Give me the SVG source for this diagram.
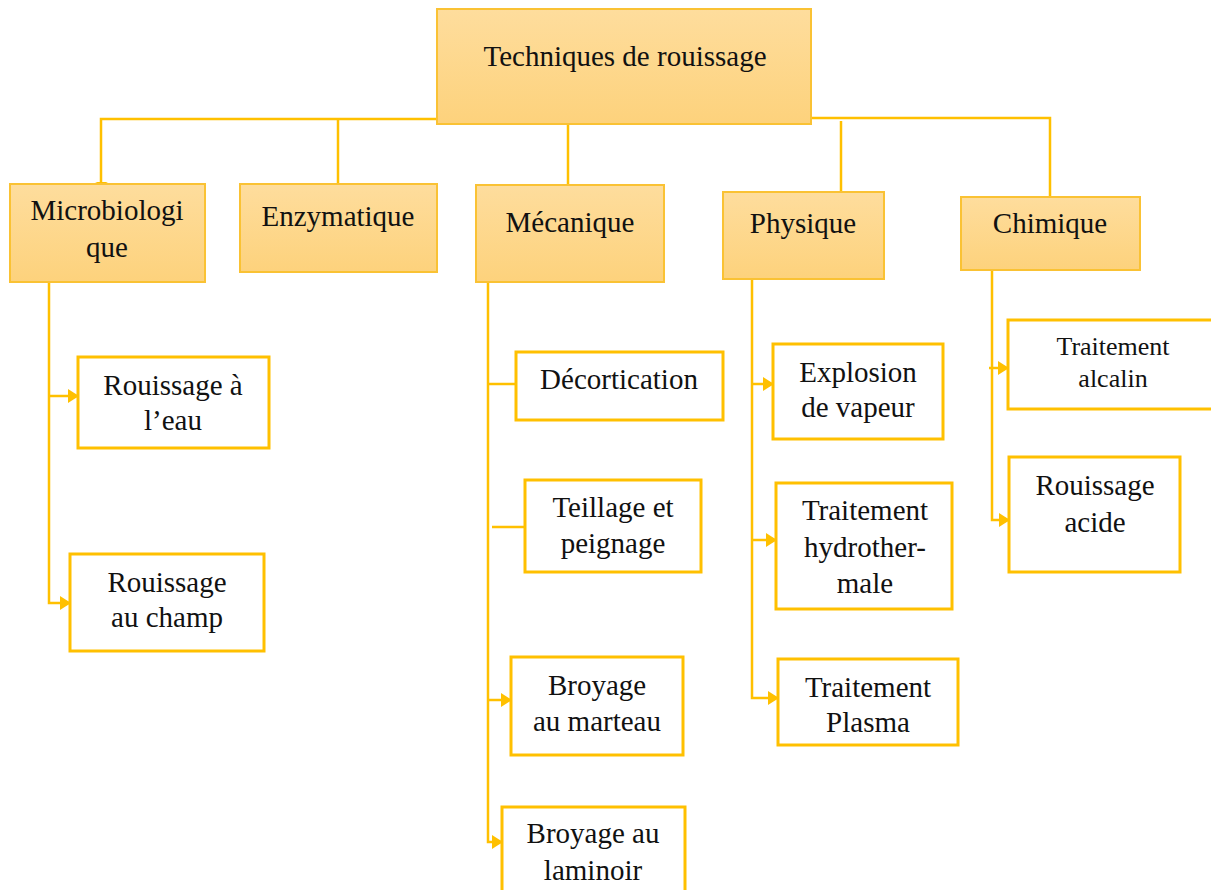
<svg xmlns="http://www.w3.org/2000/svg" width="1211" height="890" viewBox="0 0 1211 890">
  <defs>
    <linearGradient id="catFill" x1="0" y1="0" x2="0" y2="1">
      <stop offset="0" stop-color="#FEDD9D"/>
      <stop offset="1" stop-color="#FDD27C"/>
    </linearGradient>
    <marker id="arrow" viewBox="0 0 11 14" refX="10" refY="7" markerWidth="11" markerHeight="14" markerUnits="userSpaceOnUse" orient="auto">
      <path d="M0,0 L11,7 L0,14 z" fill="#FFC000"/>
    </marker>
  </defs>
  <style>
    .cat { fill: url(#catFill); stroke: #FAC234; stroke-width: 2; }
    .leaf { fill: #FFFFFF; stroke: #FFC000; stroke-width: 3; }
    .lbl { font-size: 29px; fill: #111111; text-anchor: middle; }
    .sm { font-size: 26px; }
    .link { fill: none; stroke: #FFC000; stroke-width: 2.5; }
  </style>
  <rect width="1211" height="890" fill="#FFFFFF"/>

  <!-- connectors -->
  <g id="connectors" class="link">
    <path d="M437,119 H101 V184"/>
    <path d="M95,182 L108,182 L102,185 z" fill="#FFC000" stroke="none"/>
    <path d="M811,118 H1050 V197"/>
    <path d="M338,119 V183"/>
    <path d="M568,124 V185"/>
    <path d="M841,121 V192"/>

    <path d="M49,283 V603 H70" marker-end="url(#arrow)"/>
    <path d="M49,396 H78" marker-end="url(#arrow)"/>

    <path d="M488,282 V842 H502" marker-end="url(#arrow)"/>
    <path d="M488,384 H516"/>
    <path d="M492,527 H525"/>
    <path d="M488,700 H511" marker-end="url(#arrow)"/>

    <path d="M752,279 V698 H778" marker-end="url(#arrow)"/>
    <path d="M752,384 H773" marker-end="url(#arrow)"/>
    <path d="M752,540 H776" marker-end="url(#arrow)"/>

    <path d="M992,270 V520 H1009" marker-end="url(#arrow)"/>
    <path d="M989,368 H1008" marker-end="url(#arrow)"/>
  </g>

  <g font-family="'Liberation Serif', 'Times New Roman', Times, serif">
  <!-- root -->
  <g id="root">
    <rect class="cat" x="437" y="9" width="374" height="115"/>
    <text class="lbl" x="625" y="66">Techniques de rouissage</text>
  </g>

  <!-- categories -->
  <g id="microbiologique">
    <rect class="cat" x="10" y="184" width="195" height="98"/>
    <text class="lbl" x="107" y="220">Microbiologi</text>
    <text class="lbl" x="107" y="257">que</text>
  </g>
  <g id="enzymatique">
    <rect class="cat" x="240" y="184" width="197" height="88"/>
    <text class="lbl" x="338" y="226">Enzymatique</text>
  </g>
  <g id="mecanique">
    <rect class="cat" x="476" y="185" width="188" height="97"/>
    <text class="lbl" x="570" y="232">Mécanique</text>
  </g>
  <g id="physique">
    <rect class="cat" x="723" y="192" width="161" height="87"/>
    <text class="lbl" x="803" y="233">Physique</text>
  </g>
  <g id="chimique">
    <rect class="cat" x="961" y="197" width="179" height="73"/>
    <text class="lbl" x="1050" y="233">Chimique</text>
  </g>

  <!-- microbiological -->
  <g id="rouissage-eau">
    <rect class="leaf" x="78" y="357" width="191" height="91"/>
    <text class="lbl" x="173" y="395">Rouissage à</text>
    <text class="lbl" x="173" y="430">l’eau</text>
  </g>
  <g id="rouissage-champ">
    <rect class="leaf" x="70" y="554" width="194" height="97"/>
    <text class="lbl" x="167" y="592">Rouissage</text>
    <text class="lbl" x="167" y="627">au champ</text>
  </g>

  <!-- mechanical -->
  <g id="decortication">
    <rect class="leaf" x="516" y="352" width="207" height="68"/>
    <text class="lbl" x="619" y="389">Décortication</text>
  </g>
  <g id="teillage">
    <rect class="leaf" x="525" y="480" width="176" height="92"/>
    <text class="lbl" x="613" y="517">Teillage et</text>
    <text class="lbl" x="613" y="553">peignage</text>
  </g>
  <g id="broyage-marteau">
    <rect class="leaf" x="511" y="657" width="172" height="98"/>
    <text class="lbl" x="597" y="695">Broyage</text>
    <text class="lbl" x="597" y="731">au marteau</text>
  </g>
  <g id="broyage-laminoir">
    <rect class="leaf" x="502" y="807" width="183" height="100"/>
    <text class="lbl" x="593" y="843">Broyage au</text>
    <text class="lbl" x="593" y="880">laminoir</text>
  </g>

  <!-- physical -->
  <g id="explosion-vapeur">
    <rect class="leaf" x="773" y="344" width="170" height="95"/>
    <text class="lbl" x="858" y="382">Explosion</text>
    <text class="lbl" x="858" y="417">de vapeur</text>
  </g>
  <g id="hydrothermale">
    <rect class="leaf" x="776" y="483" width="176" height="126"/>
    <text class="lbl" x="865" y="520">Traitement</text>
    <text class="lbl" x="865" y="557">hydrother-</text>
    <text class="lbl" x="865" y="593">male</text>
  </g>
  <g id="plasma">
    <rect class="leaf" x="778" y="659" width="180" height="86"/>
    <text class="lbl" x="868" y="697">Traitement</text>
    <text class="lbl" x="868" y="732">Plasma</text>
  </g>

  <!-- chemical -->
  <g id="alcalin">
    <rect class="leaf" x="1008" y="320" width="220" height="89"/>
    <text class="lbl sm" x="1113" y="355">Traitement</text>
    <text class="lbl sm" x="1113" y="387">alcalin</text>
  </g>
  <g id="rouissage-acide">
    <rect class="leaf" x="1009" y="457" width="171" height="115"/>
    <text class="lbl" x="1095" y="495">Rouissage</text>
    <text class="lbl" x="1095" y="532">acide</text>
  </g>
  </g>
</svg>
